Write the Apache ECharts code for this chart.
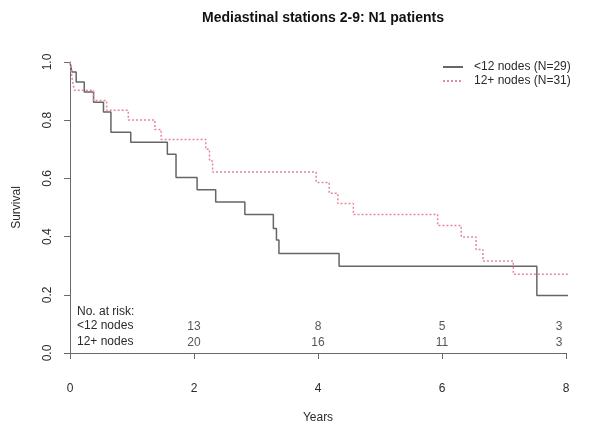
<!DOCTYPE html>
<html>
<head>
<meta charset="utf-8">
<script src="https://cdn.jsdelivr.net/npm/echarts@6/dist/echarts.min.js"></script>
<style>html,body{margin:0;padding:0;background:#fff}#c{width:602px;height:440px}</style>
</head>
<body>
<div id="c"></div>
<script>
// Group <12 nodes (Kaplan-Meier step points: time in years, survival)
var timesLt12 = [0, 0.03, 0.10, 0.23, 0.38, 0.54, 0.66, 0.98, 1.57, 1.71, 2.05, 2.35, 2.82, 3.28, 3.33, 3.37, 4.34, 7.53, 8.16];
var survLt12  = [1.0, 0.966, 0.931, 0.897, 0.862, 0.828, 0.759, 0.724, 0.683, 0.603, 0.561, 0.519, 0.476, 0.428, 0.388, 0.342, 0.298, 0.198, 0.198];
// Group 12+ nodes
var timesGe12 = [0, 0.02, 0.04, 0.07, 0.38, 0.59, 0.94, 1.37, 1.47, 2.19, 2.25, 2.30, 3.97, 4.18, 4.32, 4.57, 5.93, 6.31, 6.55, 6.66, 7.15, 8.28];
var survGe12  = [1.0, 0.968, 0.935, 0.903, 0.868, 0.834, 0.801, 0.768, 0.734, 0.70, 0.66, 0.622, 0.586, 0.549, 0.514, 0.476, 0.438, 0.399, 0.356, 0.316, 0.271, 0.271];

var seriesNames = ['<12 nodes (N=29)', '12+ nodes (N=31)'];
var riskTimes = [2, 4, 6, 8];
var riskLt12 = [13, 8, 5, 3];
var riskGe12 = [20, 16, 11, 3];
var riskRowLabels = ['<12 nodes', '12+ nodes'];
var riskHeader = 'No. at risk:';

var FONT = 'Liberation Sans, Arial, Helvetica, sans-serif';
var FS = 12;
var TXT = '#2a2a2a';
var AX = '#6a6a6a';
var C1 = '#666666';
var C2 = '#e4889a';

function pairs(t, s) { return t.map(function (v, i) { return [v, s[i]]; }); }

// vertical placement of the risk table rows (in survival units)
var rowY = [0.09, 0.036];
var headY = 0.138;

function riskData(counts, y) {
  return riskTimes.map(function (t, i) {
    var item = { value: [t, y], count: counts[i] };
    if (i === riskTimes.length - 1) item.label = { offset: [-7, 0] };
    return item;
  });
}

var chart = echarts.init(document.getElementById('c'), null, { renderer: 'canvas' });

var riskLabel = { show: true, position: 'inside', fontFamily: FONT, fontSize: FS, color: TXT,
  formatter: function (p) { return String(p.data.count); } };

chart.setOption({
  backgroundColor: '#fff',
  animation: false,
  textStyle: { fontFamily: FONT },
  title: {
    text: 'Mediastinal stations 2-9: N1 patients',
    left: 318, top: 6, textAlign: 'center',
    textStyle: { fontFamily: FONT, fontSize: 14, fontWeight: 'bold', color: '#111' }
  },
  legend: {
    orient: 'vertical', left: 437, top: 56,
    itemWidth: 20, itemHeight: 10, itemGap: 2,
    itemStyle: { opacity: 0 },
    data: seriesNames,
    textStyle: { fontFamily: FONT, fontSize: FS, color: TXT, padding: [0, 0, 0, 6] }
  },
  grid: { left: 70, right: 36, top: 62, bottom: 87 },
  xAxis: {
    type: 'value', min: 0, max: 8, interval: 2, offset: 14,
    name: 'Years', nameLocation: 'middle', nameGap: 45,
    nameTextStyle: { fontFamily: FONT, fontSize: FS, color: TXT },
    axisLine: { show: true, lineStyle: { color: AX, width: 1 } },
    axisTick: { show: true, length: 6, lineStyle: { color: AX } },
    axisLabel: { fontFamily: FONT, fontSize: FS, color: TXT, margin: 16 },
    splitLine: { show: false }
  },
  yAxis: {
    type: 'value', min: 0, max: 1, interval: 0.2,
    name: 'Survival', nameLocation: 'middle', nameGap: 47, nameRotate: 90,
    nameTextStyle: { fontFamily: FONT, fontSize: FS, color: TXT },
    axisLine: { show: true, lineStyle: { color: AX, width: 1 } },
    axisTick: { show: true, length: 6, lineStyle: { color: AX } },
    axisLabel: { fontFamily: FONT, fontSize: FS, color: TXT, rotate: 90, margin: 16,
      formatter: function (v) { return v.toFixed(1); } },
    splitLine: { show: false }
  },
  series: [
    {
      name: seriesNames[0], type: 'line', step: 'end', symbol: 'none', clip: false,
      data: pairs(timesLt12, survLt12),
      lineStyle: { color: C1, width: 1.5 },
      itemStyle: { color: C1 }
    },
    {
      name: seriesNames[1], type: 'line', step: 'end', symbol: 'none', clip: false,
      data: pairs(timesGe12, survGe12),
      lineStyle: { color: C2, width: 1.5, type: [2, 2] },
      itemStyle: { color: C2 }
    },
    { type: 'scatter', symbolSize: 0, silent: true, data: riskData(riskLt12, rowY[0]), label: riskLabel },
    { type: 'scatter', symbolSize: 0, silent: true, data: riskData(riskGe12, rowY[1]), label: riskLabel }
  ]
});

// Risk table row titles, placed from the axis scale
var xL = 77;
function py(v) { return chart.convertToPixel({ gridIndex: 0 }, [0, v])[1]; }
var font = FS + 'px ' + FONT;
chart.setOption({
  graphic: [
    { type: 'text', left: xL, top: py(headY) - 7, style: { text: riskHeader, font: font, fill: TXT } },
    { type: 'text', left: xL, top: py(rowY[0]) - 7, style: { text: riskRowLabels[0], font: font, fill: TXT } },
    { type: 'text', left: xL, top: py(rowY[1]) - 7, style: { text: riskRowLabels[1], font: font, fill: TXT } }
  ]
});
</script>
</body>
</html>
